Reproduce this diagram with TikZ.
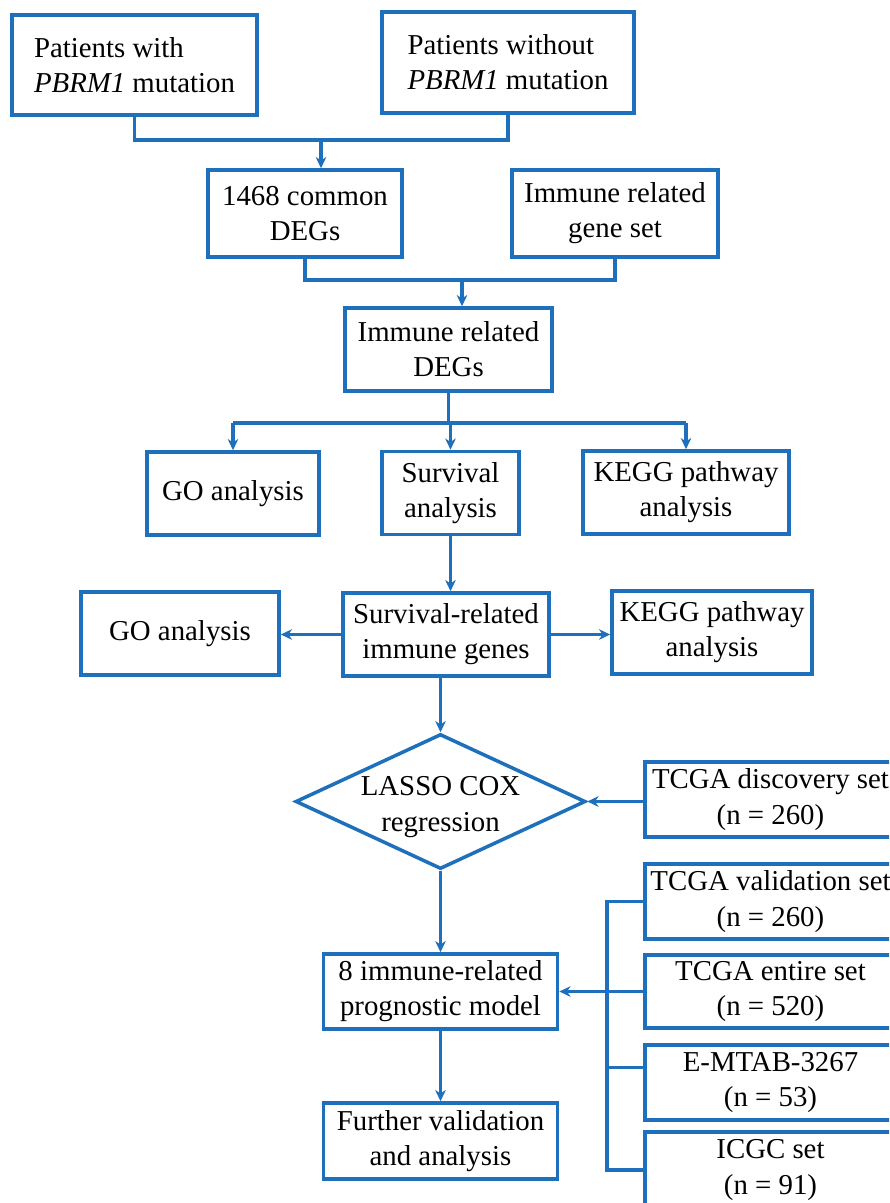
\documentclass[tikz,border=0pt]{standalone}
\usepackage{fontspec}
\setmainfont{Liberation Serif}
\usepackage{xcolor}
\usetikzlibrary{arrows.meta, shapes.geometric, calc}
\definecolor{flowblue}{RGB}{30,112,189}

\begin{document}
\begin{tikzpicture}[x=0.025cm, y=-0.025cm,
    every node/.style={font=\fontsize{20.5}{25}\selectfont},
    box/.style={draw=flowblue, line width=2.5pt, align=center, inner sep=0pt},
    link/.style={draw=flowblue, line width=2.3pt},
    arr/.style={link, -{Stealth[length=8pt, width=7.5pt, inset=2.5pt]}}]
  \useasboundingbox (0,0) rectangle (889,1203);
  \clip (0,0) rectangle (889,1203);

  \node[box, align=left, minimum width=6.125cm, minimum height=2.5cm] (pw) at (134.5,65) {Patients with\\\textit{PBRM1} mutation};
  \node[box, align=left, minimum width=6.3cm, minimum height=2.525cm] (pwo) at (508,62.5) {Patients without\\\textit{PBRM1} mutation};

  \node[box, minimum width=4.85cm, minimum height=2.175cm] (deg) at (305,213.5) {1468 common\\DEGs};
  \node[box, minimum width=5.15cm, minimum height=2.175cm] (irg) at (615,213.5) {Immune related\\gene set};
  \node[box, minimum width=5.175cm, minimum height=2.075cm] (ideg) at (448.5,349.5) {Immune related\\DEGs};

  \node[box, minimum width=4.3cm, minimum height=2.075cm] (go1) at (233,493.5) {GO analysis};
  \node[box, minimum width=3.425cm, minimum height=2.075cm] (surv) at (450.5,493) {Survival\\analysis};
  \node[box, minimum width=5.15cm, minimum height=2.075cm] (kegg1) at (686,492.5) {KEGG pathway\\analysis};

  \node[box, minimum width=4.95cm, minimum height=2.075cm] (go2) at (180,633.5) {GO analysis};
  \node[box, minimum width=5.15cm, minimum height=2.075cm] (srig) at (446,634.5) {Survival-related\\immune genes};
  \node[box, minimum width=5cm, minimum height=2.075cm] (kegg2) at (712,632.5) {KEGG pathway\\analysis};

  \node[box, diamond, aspect=2.15, minimum width=7.25cm, minimum height=3.375cm] (lasso) at (440.5,801.5) {};
  \node[align=center] (lassotxt) at (440.5,807) {LASSO COX\\regression};
  \node[box, minimum width=5.85cm, minimum height=1.875cm] (model) at (440.5,991.5) {8 immune-related\\prognostic model};
  \node[box, minimum width=5.85cm, minimum height=1.9cm] (further) at (440.5,1141) {Further validation\\and analysis};

  \node[box, minimum width=6.275cm, minimum height=1.875cm] (disc) at (770.5,799.5) {TCGA discovery set\\(n = 260)};
  \node[box, minimum width=6.275cm, minimum height=1.875cm] (valid) at (770.5,901.5) {TCGA validation set\\(n = 260)};
  \node[box, minimum width=6.275cm, minimum height=1.825cm] (entire) at (770.5,991.5) {TCGA entire set\\(n = 520)};
  \node[box, minimum width=6.275cm, minimum height=1.875cm] (emtab) at (770.5,1082.5) {E-MTAB-3267\\(n = 53)};
  \node[box, minimum width=6.275cm, minimum height=1.9cm] (icgc) at (770.5,1170) {ICGC set\\(n = 91)};

  \coordinate (j1) at (321,140);
  \coordinate (j2) at (462,280);
  \coordinate (j3) at (452,423);
  \coordinate (brk) at (607,991.5);

  \draw[link] (pw.south) |- (j1) -| (pwo.south);
  \draw[arr] (j1) -- (j1 |- deg.north);
  \draw[link] (deg.south) |- (j2) -| (irg.south);
  \draw[arr] (j2) -- (j2 |- ideg.north);
  \draw[link] (ideg.south) -- (ideg.south |- j3);
  \draw[link] (go1.north |- j3) -- (kegg1.north |- j3);
  \foreach \n in {go1, surv, kegg1}
    \draw[arr] (\n.north |- j3) -- (\n.north);

  \draw[arr] (surv.south) -- (surv.south |- srig.north);
  \draw[arr] (srig.west) -- (srig.west -| go2.east);
  \draw[arr] (srig.east) -- (srig.east -| kegg2.west);
  \draw[arr] (lasso.north |- srig.south) -- (lasso.north);
  \draw[arr] (disc.west |- lasso.east) -- (lasso.east);
  \draw[arr] (lasso.south) -- (model.north);
  \draw[arr] (model.south) -- (further.north);

  \draw[link] (valid.west) -| (brk |- icgc.west) -- (icgc.west);
  \draw[link] (entire.west) -- (brk);
  \draw[link] ([yshift=0.375cm]emtab.west) -- ++(-38,0);
  \draw[arr] (brk) -- (model.east);
\end{tikzpicture}
\end{document}
